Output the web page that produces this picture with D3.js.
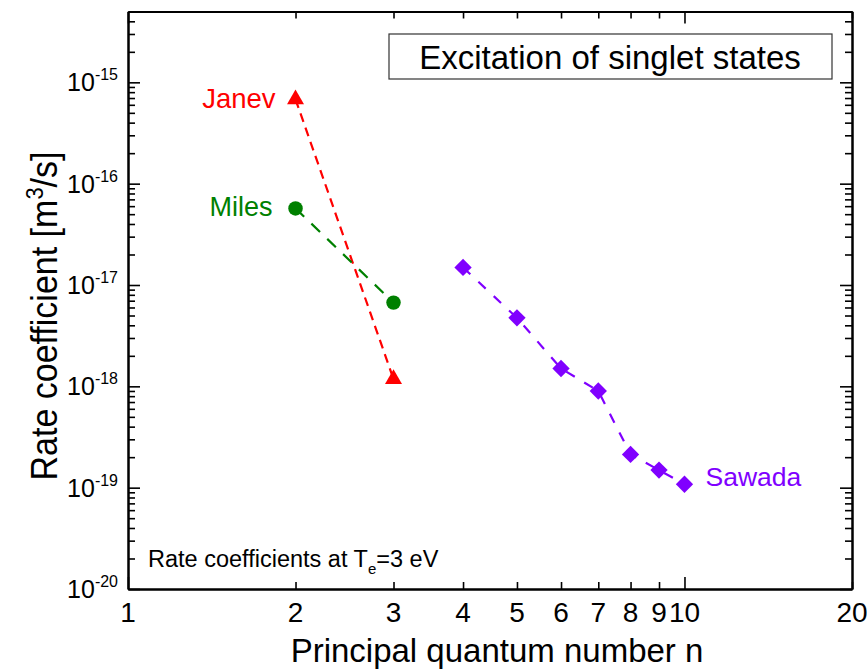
<!DOCTYPE html>
<html><head><meta charset="utf-8">
<script src="https://cdn.jsdelivr.net/npm/d3@7"></script>
<style>body{margin:0;background:#fff} text{font-family:"Liberation Sans",Arial,Helvetica,sans-serif}</style>
</head><body><svg id="c" width="867" height="669"></svg>
<script>
// data
const nJanev = [2, 3];
const kJanev = [6.8e-16, 1.18e-18];
const nMiles = [2, 3];
const kMiles = [5.7e-17, 6.7e-18];
const nSawada = [4, 5, 6, 7, 8, 9, 10];
const kSawada = [1.49e-17, 4.74e-18, 1.50e-18, 9.0e-19, 2.13e-19, 1.49e-19, 1.08e-19];
const xTickLabels = [1, 2, 3, 4, 5, 6, 7, 8, 9, 10, 20];
const xMajor = [1, 10];
const yExponents = [-20, -19, -18, -17, -16, -15];
const title = "Excitation of singlet states";

const svg = d3.select("#c");
const L = 128, R = 852, T = 11.5, B = 589;
const x = d3.scaleLog().domain([1, 20]).range([L, R]);
const y = d3.scaleLog().domain([1e-20, 5e-15]).range([B, T]);

const yMajor = yExponents.map(e => Math.pow(10, e));
const yMinor = [];
yExponents.forEach(e => { for (let m = 2; m <= 9; m++) { const v = m * Math.pow(10, e); if (v <= 5e-15) yMinor.push(v); } });
const xMinor = xTickLabels.filter(v => !xMajor.includes(v));

function styleAxis(g) {
  g.selectAll("path").attr("stroke", "#000").attr("stroke-width", 2);
  g.selectAll("line").attr("stroke", "#000").attr("stroke-width", 1.6);
  g.selectAll("text").remove();
}
// bottom
svg.append("g").attr("transform", `translate(0,${B})`).call(d3.axisBottom(x).tickValues(xMajor).tickSize(-12).tickSizeOuter(0)).call(styleAxis);
svg.append("g").attr("transform", `translate(0,${B})`).call(d3.axisBottom(x).tickValues(xMinor).tickSize(-7).tickSizeOuter(0)).call(styleAxis);
// top
svg.append("g").attr("transform", `translate(0,${T})`).call(d3.axisTop(x).tickValues(xMajor).tickSize(-12).tickSizeOuter(0)).call(styleAxis);
svg.append("g").attr("transform", `translate(0,${T})`).call(d3.axisTop(x).tickValues(xMinor).tickSize(-7).tickSizeOuter(0)).call(styleAxis);
// left
svg.append("g").attr("transform", `translate(${L},0)`).call(d3.axisLeft(y).tickValues(yMajor).tickSize(-12).tickSizeOuter(0)).call(styleAxis);
svg.append("g").attr("transform", `translate(${L},0)`).call(d3.axisLeft(y).tickValues(yMinor).tickSize(-7).tickSizeOuter(0)).call(styleAxis);
// right
svg.append("g").attr("transform", `translate(${R},0)`).call(d3.axisRight(y).tickValues(yMajor).tickSize(-12).tickSizeOuter(0)).call(styleAxis);
svg.append("g").attr("transform", `translate(${R},0)`).call(d3.axisRight(y).tickValues(yMinor).tickSize(-7).tickSizeOuter(0)).call(styleAxis);

// x tick labels
svg.append("g").selectAll("text").data(xTickLabels).join("text")
  .attr("x", d => x(d)).attr("y", 622).attr("text-anchor", "middle")
  .attr("font-size", 28).attr("fill", "#000").text(d => d);

// y tick labels
const yl = svg.append("g").selectAll("text").data(yExponents).join("text")
  .attr("x", 118).attr("y", d => y(Math.pow(10, d)) + 9).attr("text-anchor", "end")
  .attr("font-size", 25).attr("fill", "#000");
yl.append("tspan").text("10");
yl.append("tspan").attr("dy", -11).attr("font-size", 16).text(d => d);

// axis titles
svg.append("text").attr("x", 497).attr("y", 662).attr("text-anchor", "middle")
  .attr("font-size", 33).attr("fill", "#000").text("Principal quantum number n");
const yt = svg.append("text").attr("transform", `translate(57,316) rotate(-90) scale(1,1.1)`)
  .attr("text-anchor", "middle").attr("font-size", 34).attr("fill", "#000");
yt.append("tspan").text("Rate coefficient [m");
yt.append("tspan").attr("dy", -13).attr("font-size", 22).text("3");
yt.append("tspan").attr("dy", 13).text("/s]");

// series
const line = d3.line().x(d => x(d[0])).y(d => y(d[1]));
const series = [
  {name: "Janev", n: nJanev, k: kJanev, color: "#ff0000", dash: "9,6", sym: d3.symbolTriangle, size: 125, rot: 0},
  {name: "Miles", n: nMiles, k: kMiles, color: "#008000", dash: "12,10", sym: d3.symbolCircle, size: 165, rot: 0},
  {name: "Sawada", n: nSawada, k: kSawada, color: "#8000ff", dash: "10,11", sym: d3.symbolSquare, size: 150, rot: 45}
];
series.forEach(s => {
  const pts = s.n.map((v, i) => [v, s.k[i]]);
  svg.append("path").datum(pts).attr("d", line).attr("fill", "none")
    .attr("stroke", s.color).attr("stroke-width", 2.2).attr("stroke-dasharray", s.dash);
  svg.append("g").selectAll("path").data(pts).join("path")
    .attr("transform", d => `translate(${x(d[0])},${y(d[1])}) rotate(${s.rot})`)
    .attr("d", d3.symbol().type(s.sym).size(s.size)).attr("fill", s.color);
});

// series labels
svg.append("text").attr("x", x(nJanev[0]) - 20).attr("y", y(kJanev[0]) + 9).attr("text-anchor", "end")
  .attr("font-size", 27.5).attr("fill", "#ff0000").text("Janev");
svg.append("text").attr("x", x(nMiles[0]) - 23).attr("y", y(kMiles[0]) + 8).attr("text-anchor", "end")
  .attr("font-size", 27).attr("fill", "#008000").text("Miles");
svg.append("text").attr("x", x(nSawada[6]) + 21).attr("y", y(kSawada[6]) + 2).attr("text-anchor", "start")
  .attr("font-size", 26.5).attr("fill", "#8000ff").text("Sawada");

// title box
svg.append("rect").attr("x", 389).attr("y", 34).attr("width", 443).attr("height", 45)
  .attr("fill", "#fff").attr("stroke", "#333").attr("stroke-width", 1.2);
svg.append("text").attr("x", 610).attr("y", 69).attr("text-anchor", "middle")
  .attr("font-size", 33).attr("fill", "#000").text(title);

// note
const note = svg.append("text").attr("x", 148).attr("y", 567).attr("font-size", 23.5).attr("fill", "#000");
note.append("tspan").text("Rate coefficients at T");
note.append("tspan").attr("dy", 7).attr("font-size", 15).text("e");
note.append("tspan").attr("dy", -7).text("=3 eV");
</script></body></html>
